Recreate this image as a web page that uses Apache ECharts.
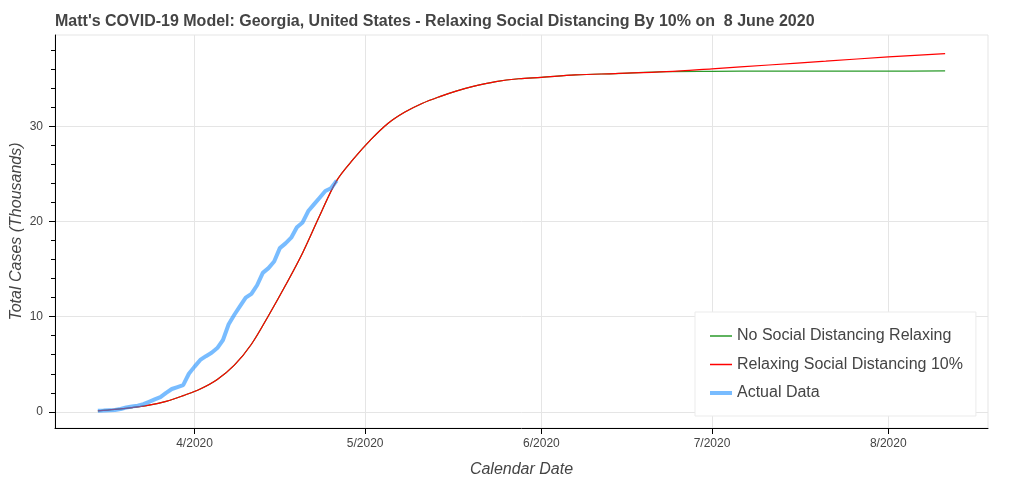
<!DOCTYPE html>
<html>
<head>
<meta charset="utf-8">
<script src="https://cdn.jsdelivr.net/npm/echarts@6/dist/echarts.min.js"></script>
<style>
    html, body { margin: 0; padding: 0; background: #fff; }
    #mychart { width: 1024px; height: 482px; }
</style>
</head>
<body>
<div id="mychart"></div>
<script>
    // actual reported cases, thousands (Mar 15 .. Apr 26)
    var actualDates = ['2020-03-15', '2020-03-16', '2020-03-17', '2020-03-18', '2020-03-19', '2020-03-20', '2020-03-21',
        '2020-03-22', '2020-03-23', '2020-03-24', '2020-03-25', '2020-03-26', '2020-03-27', '2020-03-28', '2020-03-29',
        '2020-03-30', '2020-03-31', '2020-04-01', '2020-04-02', '2020-04-03', '2020-04-04', '2020-04-05', '2020-04-06',
        '2020-04-07', '2020-04-08', '2020-04-09', '2020-04-10', '2020-04-11', '2020-04-12', '2020-04-13', '2020-04-14',
        '2020-04-15', '2020-04-16', '2020-04-17', '2020-04-18', '2020-04-19', '2020-04-20', '2020-04-21', '2020-04-22',
        '2020-04-23', '2020-04-24', '2020-04-25', '2020-04-26']
    var actualCases = [0.1, 0.13, 0.17, 0.2, 0.3, 0.45, 0.55,
        0.65, 0.8, 1.05, 1.3, 1.55, 2.0, 2.4, 2.6,
        2.8, 4.0, 4.75, 5.45, 5.85, 6.2, 6.7, 7.55,
        9.2, 10.2, 11.1, 12.0, 12.4, 13.3, 14.6, 15.1,
        15.8, 17.2, 17.7, 18.3, 19.4, 19.9, 21.1, 21.8,
        22.5, 23.2, 23.5, 24.3]

    // model curves, thousands
    var modelDates = ['2020-03-15', '2020-03-18', '2020-03-21', '2020-03-24', '2020-03-27', '2020-03-30', '2020-04-02',
        '2020-04-05', '2020-04-08', '2020-04-11', '2020-04-14', '2020-04-17', '2020-04-20', '2020-04-23', '2020-04-26',
        '2020-04-29', '2020-05-02', '2020-05-05', '2020-05-08', '2020-05-11', '2020-05-14', '2020-05-17', '2020-05-20',
        '2020-05-24', '2020-05-28', '2020-06-01', '2020-06-07', '2020-06-14', '2020-06-23', '2020-07-01', '2020-07-11',
        '2020-07-21', '2020-08-01', '2020-08-11']
    var relaxCases = [0.1, 0.25, 0.45, 0.7, 1.1, 1.7, 2.4,
        3.4, 4.9, 7.1, 10.1, 13.3, 16.7, 20.6, 24.3,
        26.6, 28.6, 30.3, 31.5, 32.4, 33.1, 33.7, 34.2,
        34.7, 35.0, 35.15, 35.4, 35.55, 35.75, 36.05, 36.45,
        36.85, 37.3, 37.65]
    var noRelaxCases = [0.1, 0.25, 0.45, 0.7, 1.1, 1.7, 2.4,
        3.4, 4.9, 7.1, 10.1, 13.3, 16.7, 20.6, 24.3,
        26.6, 28.6, 30.3, 31.5, 32.4, 33.1, 33.7, 34.2,
        34.7, 35.0, 35.15, 35.4, 35.55, 35.75, 35.78, 35.8,
        35.8, 35.81, 35.82]

    var monthTicks = ['2020-04-01', '2020-05-01', '2020-06-01', '2020-07-01', '2020-08-01']
    var yMajor = [0, 10, 20, 30]
    var yMinor = [2, 4, 6, 8, 12, 14, 16, 18, 22, 24, 26, 28, 32, 34, 36, 38]

    function ts(s) {
        var p = s.split('-')
        return new Date(+p[0], +p[1] - 1, +p[2]).getTime()
    }
    function pairs(dates, vals) {
        var out = []
        for (var i = 0; i < dates.length; i++) out.push([ts(dates[i]), vals[i]])
        return out
    }

    var hour = 3600 * 1000
    var font = 'Liberation Sans, Arial, sans-serif'
    var txt = '#444'
    var gridCol = '#e5e5e5'
    var chart = echarts.init(document.getElementById('mychart'))
    var option = {
        backgroundColor: '#fff',
        animation: false,
        title: {
            text: "Matt's COVID-19 Model: Georgia, United States - Relaxing Social Distancing By 10% on  8 June 2020",
            left: 50,
            top: 9,
            textStyle: { fontFamily: font, fontSize: 16, fontWeight: 'bold', color: txt }
        },
        legend: {
            orient: 'vertical',
            left: 695,
            top: 312,
            padding: [16, 13, 15, 13],
            itemGap: 12.5,
            itemWidth: 22,
            itemHeight: 18,
            backgroundColor: '#fff',
            borderColor: '#ebebeb',
            borderWidth: 1,
            itemStyle: { opacity: 0 },
            textStyle: { fontFamily: font, fontSize: 16, color: txt },
            data: [
                { name: 'No Social Distancing Relaxing', lineStyle: { width: 1.5 } },
                { name: 'Relaxing Social Distancing 10%', lineStyle: { width: 1.5 } },
                { name: 'Actual Data', lineStyle: { width: 4 } }
            ]
        },
        grid: {
            left: 55, right: 36, top: 35, bottom: 54,
            outerBoundsMode: 'none',
            show: true, borderColor: gridCol, borderWidth: 1
        },
        xAxis: {
            type: 'value',
            min: ts('2020-03-07') + 11 * hour,
            max: ts('2020-08-18') + 13 * hour,
            name: 'Calendar Date',
            nameLocation: 'middle',
            nameGap: 34,
            nameTextStyle: { fontFamily: font, fontSize: 16, fontStyle: 'italic', color: txt },
            axisLine: { onZero: false, lineStyle: { color: '#000', width: 1 } },
            axisTick: { length: 6, lineStyle: { color: '#000' }, customValues: monthTicks.map(ts) },
            axisLabel: {
                customValues: monthTicks.map(ts),
                margin: 10,
                fontFamily: font, fontSize: 12, color: txt,
                formatter: function (v) {
                    var d = new Date(v)
                    return (d.getMonth() + 1) + '/' + d.getFullYear()
                }
            },
            splitLine: { show: true, lineStyle: { color: gridCol } }
        },
        yAxis: [{
            type: 'value',
            min: -1.7,
            max: 39.6,
            name: 'Total Cases (Thousands)',
            nameLocation: 'middle',
            nameGap: 30,
            nameMoveOverlap: false,
            nameTextStyle: { fontFamily: font, fontSize: 16, fontStyle: 'italic', color: txt },
            axisLine: { show: true, onZero: false, lineStyle: { color: '#000', width: 1 } },
            axisTick: { show: true, length: 6, lineStyle: { color: '#000' }, customValues: yMajor },
            axisLabel: { customValues: yMajor, margin: 12, fontFamily: font, fontSize: 12, color: txt },
            splitLine: { show: true, lineStyle: { color: gridCol } }
        }, {
            type: 'value',
            position: 'left',
            min: -1.7,
            max: 39.6,
            axisLine: { show: false, onZero: false },
            axisTick: { show: true, length: 4, lineStyle: { color: '#000' }, customValues: yMinor },
            axisLabel: { show: false },
            splitLine: { show: false }
        }],
        series: [{
            name: 'No Social Distancing Relaxing',
            type: 'line',
            symbol: 'none',
            smooth: 0.35,
            color: '#2a9a2a',
            lineStyle: { width: 1.2 },
            data: pairs(modelDates, noRelaxCases)
        }, {
            name: 'Relaxing Social Distancing 10%',
            type: 'line',
            symbol: 'none',
            smooth: 0.35,
            color: '#ff0000',
            lineStyle: { width: 1.2 },
            data: pairs(modelDates, relaxCases)
        }, {
            name: 'Actual Data',
            type: 'line',
            symbol: 'none',
            color: 'rgba(30,144,255,0.6)',
            lineStyle: { width: 4 },
            data: pairs(actualDates, actualCases)
        }]
    }
    chart.setOption(option)
</script>
</body>
</html>
